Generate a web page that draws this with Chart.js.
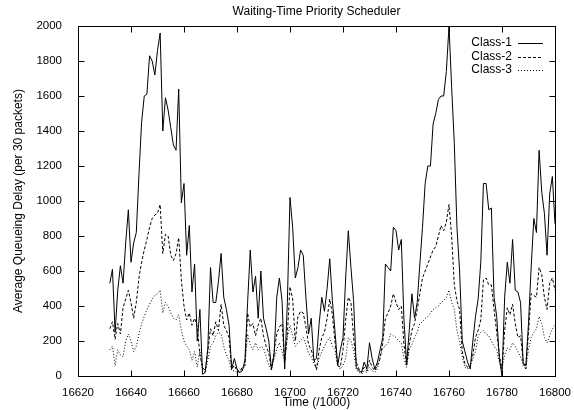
<!DOCTYPE html>
<html>
<head>
<meta charset="utf-8">
<script src="https://cdn.jsdelivr.net/npm/chart.js@4/dist/chart.umd.min.js"></script>
<style>
  html, body { margin: 0; padding: 0; background: #fff; }
  #wrap { width: 574px; height: 410px; }
</style>
</head>
<body>
<div id="wrap"><canvas id="chart" width="574" height="410"></canvas></div>
<script>
// Waiting-Time Priority Scheduler - gnuplot style line chart redone in Chart.js

// Sample times (x, in /1000)
const times = [
    16632, 16633, 16634, 16635, 16636, 16637, 16638, 16639, 16640, 16641,
    16642, 16643, 16644, 16645, 16646, 16647, 16648, 16649, 16650, 16651,
    16652, 16653, 16654, 16655, 16656, 16657, 16658, 16659, 16660, 16661,
    16662, 16663, 16664, 16665, 16666, 16667, 16668, 16669, 16670, 16671,
    16672, 16673, 16674, 16675, 16676, 16677, 16678, 16679, 16680, 16681,
    16682, 16683, 16684, 16685, 16686, 16687, 16688, 16689, 16690, 16691,
    16692, 16693, 16694, 16695, 16696, 16697, 16698, 16699, 16700, 16701,
    16702, 16703, 16704, 16705, 16706, 16707, 16708, 16709, 16710, 16711,
    16712, 16713, 16714, 16715, 16716, 16717, 16718, 16719, 16720, 16721,
    16722, 16723, 16724, 16725, 16726, 16727, 16728, 16729, 16730, 16731,
    16732, 16733, 16734, 16735, 16736, 16737, 16738, 16739, 16740, 16741,
    16742, 16743, 16744, 16745, 16746, 16747, 16748, 16749, 16750, 16751,
    16752, 16753, 16754, 16755, 16756, 16757, 16758, 16759, 16760, 16761,
    16762, 16763, 16764, 16765, 16766, 16767, 16768, 16769, 16770, 16771,
    16772, 16773, 16774, 16775, 16776, 16777, 16778, 16779, 16780, 16781,
    16782, 16783, 16784, 16785, 16786, 16787, 16788, 16789, 16790, 16791,
    16792, 16793, 16794, 16795, 16796, 16797, 16798, 16799, 16800
];

// Average queueing delay per class
const class1 = [
    530, 610, 250, 490, 630, 530, 760, 950, 650, 760,
    820, 1150, 1450, 1600, 1610, 1830, 1800, 1720, 1860, 1960,
    1400, 1590, 1520, 1420, 1320, 1290, 1640, 990, 1100, 690,
    860, 480, 640, 200, 380, 10, 20, 160, 620, 420,
    420, 540, 700, 450, 380, 290, 40, 100, 40, 20,
    30, 90, 420, 720, 480, 570, 330, 600, 330, 270,
    200, 40, 120, 450, 560, 430, 40, 420, 1020, 850,
    560, 620, 720, 690, 450, 240, 330, 90, 100, 300,
    450, 370, 500, 670, 430, 250, 60, 150, 220, 560,
    830, 620, 430, 50, 30, 20, 80, 40, 190, 100,
    40, 80, 150, 220, 640, 620, 600, 850, 830, 720,
    780, 320, 70, 260, 470, 330, 420, 640, 850, 1100,
    1200, 1200, 1440, 1500, 1580, 1600, 1600, 1740, 2000, 1650,
    1330, 850, 600, 200, 140, 80, 40, 200, 340, 440,
    650, 1100, 1100, 950, 960, 450, 340, 100, 0, 450,
    650, 530, 780, 490, 480, 420, 70, 60, 300, 620,
    900, 820, 1290, 1050, 930, 690, 1040, 1140, 870
];

const class2 = [
    270, 310, 210, 300, 240, 390, 440, 490, 420, 330,
    420, 560, 650, 720, 780, 850, 900, 920, 930, 980,
    700, 810, 800, 690, 660, 700, 790, 550, 400, 320,
    360, 290, 330, 280, 120, 50, 30, 140, 270, 230,
    310, 260, 410, 290, 260, 220, 40, 60, 30, 20,
    50, 60, 360, 280, 300, 230, 290, 330, 230, 170,
    130, 35, 140, 240, 280, 300, 80, 240, 510, 440,
    200, 340, 370, 360, 280, 180, 150, 100, 35, 150,
    220, 250, 330, 440, 350, 190, 60, 50, 150, 320,
    450, 420, 220, 80, 40, 20, 50, 30, 90, 50,
    30, 60, 100, 190, 330, 360, 400, 470, 420, 380,
    400, 180, 60, 180, 260, 300, 380, 470, 560, 600,
    640, 680, 720, 740, 800, 860, 830, 880, 980, 800,
    520, 430, 380, 140, 70, 50, 60, 120, 220, 260,
    320, 550, 560, 520, 520, 380, 250, 120, 40, 260,
    390, 350, 410, 300, 220, 230, 80, 40, 250, 470,
    460, 450, 620, 580, 450, 380, 530, 560, 490
];

const class3 = [
    150, 170, 60, 150, 120, 110, 200, 240, 200, 140,
    170, 240, 300, 340, 380, 410, 440, 460, 470, 490,
    360, 420, 400, 360, 330, 320, 350, 260, 200, 170,
    150, 90, 140, 50, 150, 30, 20, 90, 170, 190,
    230, 250, 240, 170, 120, 90, 30, 30, 20, 40,
    30, 60, 240, 180, 150, 190, 150, 170, 160, 110,
    60, 35, 100, 150, 190, 140, 80, 220, 290, 230,
    170, 190, 200, 220, 180, 130, 110, 70, 40, 100,
    140, 170, 200, 220, 170, 150, 60, 40, 60, 100,
    220, 200, 150, 40, 20, 10, 30, 20, 50, 30,
    20, 40, 110, 160, 170, 190, 240, 230, 220, 200,
    190, 100, 50, 150, 180, 220, 250, 300, 310, 330,
    340, 360, 380, 390, 400, 420, 430, 450, 490, 420,
    380, 260, 200, 110, 50, 40, 60, 100, 140, 230,
    250, 260, 240, 230, 200, 170, 150, 80, 40, 120,
    160, 150, 190, 170, 140, 110, 60, 40, 150, 220,
    250, 270, 340, 300, 220, 190, 230, 270, 290
];

const seriesNames = ['Class-1', 'Class-2', 'Class-3'];

const FONT = '"Liberation Sans", Arial, Helvetica, sans-serif';

// pair times with values for the linear x axis
const toPoints = vals => vals.map((v, i) => ({ x: times[i], y: v }));

// gnuplot look: box border, inward ticks on all sides, titles, inline legend
const gnuplotFrame = {
    id: 'gnuplotFrame',
    afterDraw(chart) {
        const { ctx, chartArea: a, scales: { x, y } } = chart;
        ctx.save();
        ctx.strokeStyle = '#000';
        ctx.lineWidth = 1;

        const L = Math.round(a.left) + 0.5, R = Math.round(a.right) + 0.5;
        const T = Math.round(a.top) + 0.5, B = Math.round(a.bottom) + 0.5;
        ctx.strokeRect(L, T, R - L, B - T);

        const tl = 6;
        ctx.beginPath();
        x.ticks.forEach(t => {
            const px = Math.round(x.getPixelForValue(t.value)) + 0.5;
            ctx.moveTo(px, B); ctx.lineTo(px, B - tl);
            ctx.moveTo(px, T); ctx.lineTo(px, T + tl);
        });
        y.ticks.forEach(t => {
            const py = Math.round(y.getPixelForValue(t.value)) + 0.5;
            ctx.moveTo(L, py); ctx.lineTo(L + tl, py);
            ctx.moveTo(R, py); ctx.lineTo(R - tl, py);
        });
        ctx.stroke();

        // titles
        ctx.fillStyle = '#000';
        ctx.font = '12px ' + FONT;
        ctx.textAlign = 'center';
        ctx.textBaseline = 'middle';
        ctx.fillText('Waiting-Time Priority Scheduler', (a.left + a.right) / 2, 12);
        ctx.fillText('Time (/1000)', (a.left + a.right) / 2, 403);
        ctx.save();
        ctx.translate(19, (a.top + a.bottom) / 2);
        ctx.rotate(-Math.PI / 2);
        ctx.fillText('Average Queueing Delay (per 30 packets)', 0, 0);
        ctx.restore();

        // legend in the top right corner
        ctx.textAlign = 'right';
        chart.data.datasets.forEach((ds, i) => {
            const ly = 43 + i * 13.5;
            ctx.fillText(ds.label, 512, ly);
            ctx.save();
            ctx.setLineDash(ds.borderDash || []);
            ctx.beginPath();
            ctx.moveTo(518, Math.round(ly) + 0.5);
            ctx.lineTo(543, Math.round(ly) + 0.5);
            ctx.stroke();
            ctx.restore();
        });
        ctx.restore();
    }
};

const lineStyle = (label, vals, dash) => ({
    label: label,
    data: toPoints(vals),
    borderColor: '#000',
    borderWidth: 1,
    borderDash: dash,
    pointRadius: 0,
    tension: 0,
    fill: false
});

new Chart(document.getElementById('chart').getContext('2d'), {
    type: 'line',
    data: {
        datasets: [
            lineStyle(seriesNames[0], class1, []),
            lineStyle(seriesNames[1], class2, [3, 2]),
            lineStyle(seriesNames[2], class3, [1, 2])
        ]
    },
    options: {
        responsive: false,
        animation: false,
        layout: { padding: { top: 26, right: 19, left: 0, bottom: 0 } },
        plugins: {
            legend: { display: false },
            title: { display: false },
            tooltip: { enabled: false }
        },
        scales: {
            x: {
                type: 'linear',
                min: 16620,
                max: 16800,
                grid: { display: false },
                border: { display: false },
                ticks: {
                    stepSize: 20,
                    autoSkip: false,
                    maxRotation: 0,
                    padding: 2,
                    color: '#000',
                    font: { family: FONT, size: 11.5 },
                    callback: v => String(v)
                },
                afterFit: s => { s.height = 34; }
            },
            y: {
                min: 0,
                max: 2000,
                grid: { display: false },
                border: { display: false },
                ticks: {
                    stepSize: 200,
                    padding: 8,
                    color: '#000',
                    font: { family: FONT, size: 11.5 },
                    callback: v => String(v)
                },
                afterFit: s => { s.width = 78; }
            }
        }
    },
    plugins: [gnuplotFrame]
});
</script>
</body>
</html>
